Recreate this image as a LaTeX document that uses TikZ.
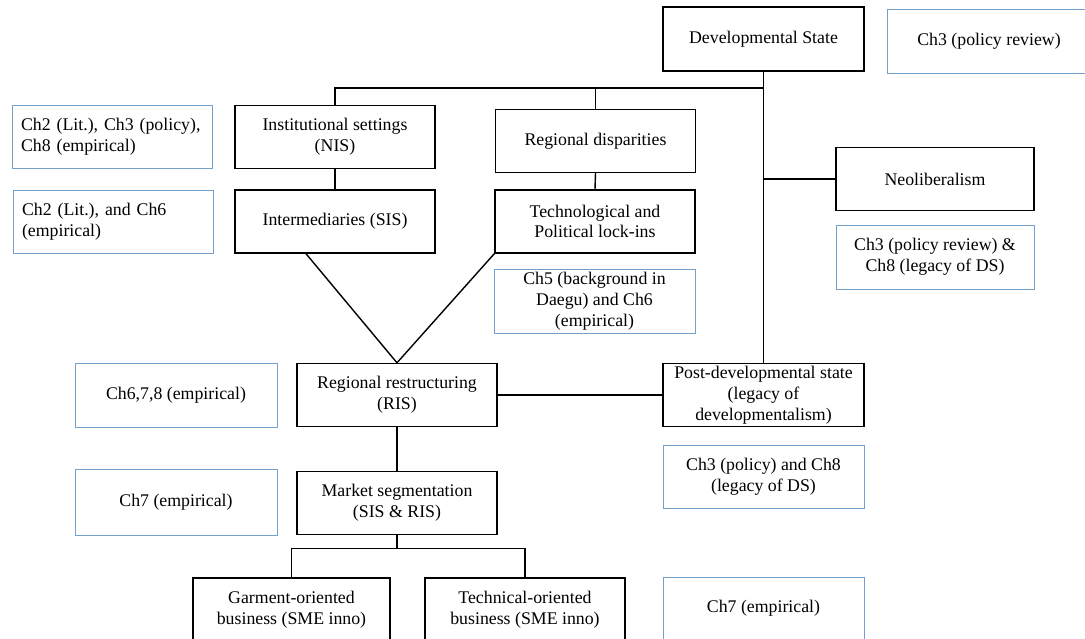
\documentclass[tikz,border=0pt]{standalone}
\usepackage{fontspec}
\setmainfont{Liberation Serif}
\definecolor{noteblue}{RGB}{115,160,205}
\newcommand{\boxfont}{\fontsize{17.8}{20.8}\selectfont}
\begin{document}
\begin{tikzpicture}[x=1pt,y=-1pt,
  concept/.style={draw=black, line width=1.4pt, minimum width=200pt, minimum height=63pt,
                  align=center, inner sep=2pt, font=\boxfont},
  note/.style={draw=noteblue, line width=1pt, minimum width=200pt, minimum height=63pt,
               align=center, inner sep=2pt, font=\boxfont},
  noteleft/.style={note, align=left, text width=182pt},
  link/.style={line width=1.4pt}]
\useasboundingbox (0,0) rectangle (1085,638);

% main concepts
\node[concept, minimum width=201pt, minimum height=64pt] (DS) at (763.5,39) {Developmental State};
\node[concept] (NIS) at (335,137) {Institutional settings\\(NIS)};
\node[concept] (SIS) at (335,221.5) {Intermediaries (SIS)};
\node[concept] (RD) at (595.5,141) {Regional disparities};
\node[concept] (TECH) at (595,221.5) {Technological and\\Political lock-ins};
\node[concept, minimum width=198pt] (NEO) at (935,179) {Neoliberalism};
\node[concept] (RIS) at (397,395) {Regional restructuring\\(RIS)};
\node[concept, minimum width=201pt] (PD) at (763.5,395) {Post-developmental state\\(legacy of\\developmentalism)};
\node[concept] (MS) at (397,503) {Market segmentation\\(SIS \& RIS)};
\node[concept, minimum width=197pt] (GO) at (291.5,609.5) {Garment-oriented\\business (SME inno)};
\node[concept] (TO) at (525,609.5) {Technical-oriented\\business (SME inno)};

% chapter notes
\node[note, minimum width=204pt, minimum height=64pt] (N1) at (989,41) {Ch3 (policy review)};
\node[noteleft] (N2) at (112,136.5) {Ch2 (Lit.), Ch3 (policy),\\Ch8 (empirical)};
\node[noteleft] (N3) at (113,221.5) {Ch2 (Lit.), and Ch6\\(empirical)};
\node[note, minimum width=198pt, minimum height=64pt] (N4) at (935,257) {Ch3 (policy review) \&\\Ch8 (legacy of DS)};
\node[note, minimum width=201pt, minimum height=64pt] (N5) at (594.5,301.5) {Ch5 (background in\\Daegu) and Ch6\\(empirical)};
\node[note, minimum width=202pt, minimum height=64pt] (N6) at (176,395) {Ch6,7,8 (empirical)};
\node[note, minimum width=201pt] (N7) at (763.5,476.5) {Ch3 (policy) and Ch8\\(legacy of DS)};
\node[note, minimum width=202pt, minimum height=66pt] (N8) at (176,502) {Ch7 (empirical)};
\node[note, minimum width=201pt] (N9) at (763.5,608.5) {Ch7 (empirical)};

% connectors
\coordinate (hub) at (763.5,88);
\draw[link] (DS.south) -- (PD.north);
\draw[link] (NIS.north) |- (hub);
\draw[link] (RD.north) |- (hub);
\draw[link] (NEO.west) -- (NEO.west -| DS.south);
\draw[link] (NIS.south) -- (SIS.north);
\draw[link] (RD.south) -- (TECH.north);
\draw[link] ([xshift=-29pt]SIS.south) -- (RIS.north);
\draw[link] (TECH.south west) -- (RIS.north);
\draw[link] (RIS.east) -- (PD.west);
\draw[link] (RIS.south) -- (MS.north);
\draw[link] (MS.south) -- ++(0,13) coordinate (split);
\draw[link] (GO.north) |- (split) -| (TO.north);
\end{tikzpicture}
\end{document}
